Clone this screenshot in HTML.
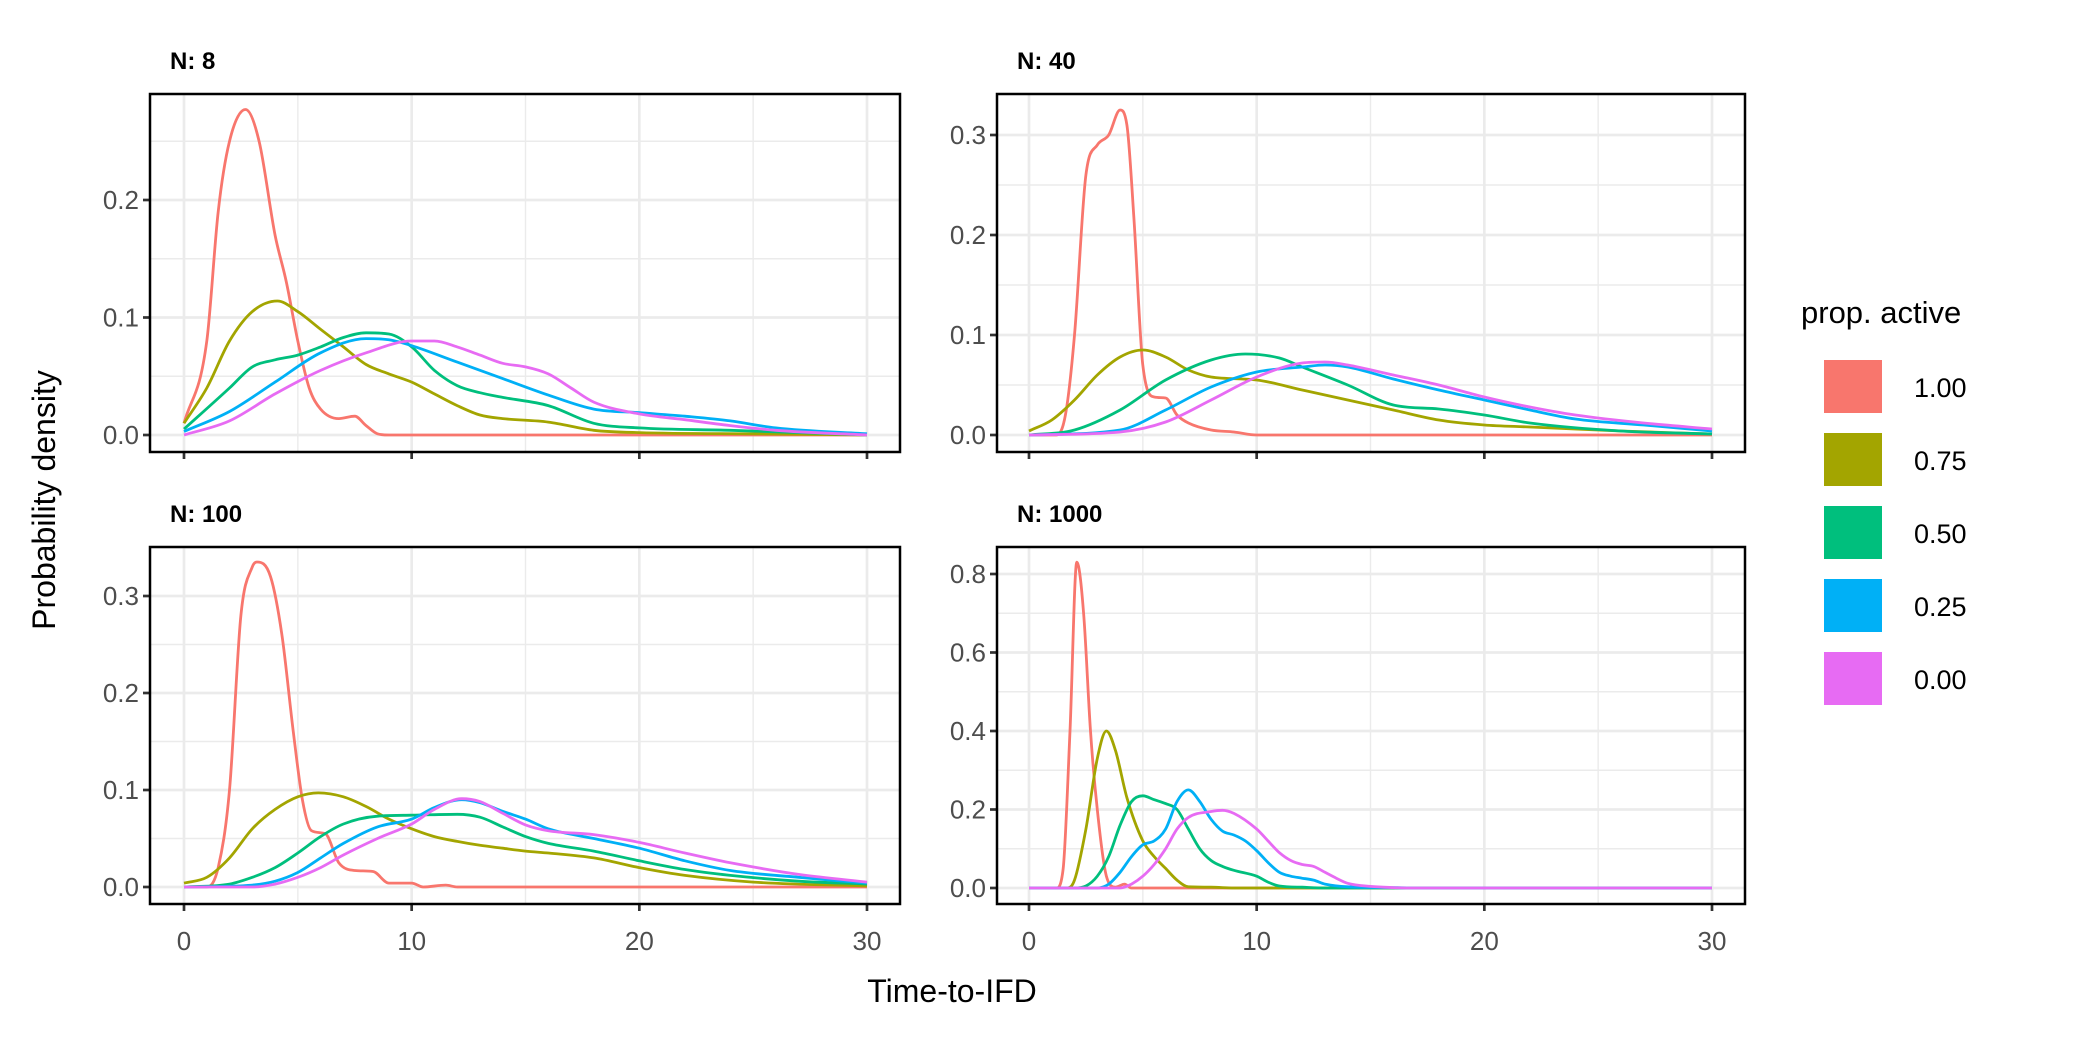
<!DOCTYPE html>
<html><head><meta charset="utf-8"><style>
body{margin:0;background:#fff}
svg{display:block;font-family:"Liberation Sans",sans-serif}
</style></head><body>
<svg id="chart" width="2100" height="1037" viewBox="0 0 2100 1037"></svg>
<script>
const seriesLevels = ["1.00","0.75","0.50","0.25","0.00"];
const seriesColors = ["#F8766D","#A3A500","#00BF7D","#00B0F6","#E76BF3"];
const panelTitles = ["N: 8","N: 40","N: 100","N: 1000"];
const xTicks = [0,10,20,30];
const yTicksP1 = [0,0.1,0.2];
const yTicksP2 = [0,0.1,0.2,0.3];
const yTicksP3 = [0,0.1,0.2,0.3];
const yTicksP4 = [0,0.2,0.4,0.6,0.8];
// N:8
const p1Red = [[0,0.01],[1,0.08],[1.5,0.19],[2,0.25],[2.7,0.277],[3.3,0.25],[4,0.17],[4.5,0.13],[5,0.08],[5.5,0.04],[6,0.022],[6.8,0.014],[7.5,0.016],[8,0.008],[8.5,0.001],[9,0],[30,0]];
const p1Olive = [[0,0.01],[1,0.04],[2,0.08],[3,0.105],[4.1,0.114],[5,0.105],[6,0.09],[7,0.075],[8,0.06],[9,0.052],[10,0.045],[11,0.035],[12,0.025],[13,0.017],[14,0.014],[16,0.011],[18,0.004],[20,0.002],[25,0.001],[30,0]];
const p1Green = [[0,0.005],[2,0.04],[3,0.058],[4,0.064],[5,0.068],[6,0.075],[7,0.083],[8,0.087],[9,0.086],[10,0.075],[11,0.055],[12,0.042],[13,0.036],[14,0.032],[16,0.025],[18,0.01],[20,0.006],[24,0.004],[27,0.002],[30,0]];
const p1Blue = [[0,0.003],[2,0.02],[4,0.045],[6,0.07],[8,0.082],[9,0.081],[10,0.076],[12,0.062],[14,0.048],[16,0.034],[18,0.022],[20,0.019],[22,0.016],[24,0.012],[26,0.006],[30,0.001]];
const p1Mag = [[0,0],[2,0.012],[4,0.035],[6,0.055],[8,0.07],[10,0.08],[11,0.08],[12,0.075],[13,0.068],[14,0.061],[15,0.058],[16,0.052],[17,0.04],[18,0.028],[20,0.018],[22,0.013],[24,0.008],[26,0.004],[30,0]];
// N:40
const p2Red = [[0,0],[1.2,0],[1.6,0.02],[2,0.1],[2.5,0.26],[3,0.29],[3.5,0.3],[4,0.325],[4.3,0.31],[4.6,0.22],[5,0.07],[5.5,0.038],[6,0.037],[6.5,0.02],[7,0.012],[8,0.005],[9,0.003],[10,0],[30,0]];
const p2Olive = [[0,0.004],[1,0.015],[2,0.035],[3,0.06],[4,0.078],[5,0.085],[6,0.078],[7,0.065],[8,0.058],[10,0.055],[12,0.045],[14,0.035],[16,0.025],[18,0.015],[20,0.01],[22,0.008],[26,0.004],[30,0.001]];
const p2Green = [[0,0],[2,0.005],[4,0.025],[6,0.055],[8,0.075],[9.5,0.081],[11,0.077],[12,0.068],[14,0.05],[16,0.03],[18,0.026],[20,0.02],[22,0.012],[26,0.004],[30,0.001]];
const p2Blue = [[0,0],[4,0.005],[6,0.025],[8,0.048],[10,0.063],[12,0.068],[13,0.07],[14,0.068],[16,0.056],[18,0.045],[20,0.035],[22,0.025],[24,0.016],[27,0.01],[30,0.004]];
const p2Mag = [[0,0],[4,0.003],[6,0.013],[8,0.035],[10,0.058],[12,0.072],[13,0.073],[14,0.07],[16,0.06],[18,0.05],[20,0.038],[22,0.028],[24,0.02],[27,0.012],[30,0.006]];
// N:100
const p3Red = [[0,0],[1,0],[1.5,0.02],[2,0.1],[2.5,0.28],[3,0.33],[3.2,0.335],[3.8,0.32],[4.3,0.26],[4.8,0.16],[5.2,0.09],[5.6,0.058],[6.2,0.055],[6.8,0.025],[7.5,0.017],[8.3,0.016],[9,0.004],[10,0.004],[10.5,0],[11.5,0.002],[12,0],[30,0]];
const p3Olive = [[0,0.004],[1,0.01],[2,0.03],[3,0.06],[4,0.08],[5,0.093],[5.9,0.097],[7,0.093],[8,0.083],[9,0.07],[10,0.06],[11,0.052],[12,0.047],[13,0.043],[14,0.04],[15,0.037],[16,0.035],[18,0.03],[20,0.02],[22,0.012],[25,0.005],[30,0.001]];
const p3Green = [[0,0],[2,0.003],[3,0.01],[4,0.02],[5,0.035],[6,0.052],[7,0.065],[8.5,0.073],[10,0.074],[12,0.075],[13,0.072],[14,0.062],[15,0.052],[16,0.045],[18,0.037],[20,0.027],[22,0.018],[24,0.012],[27,0.006],[30,0.003]];
const p3Blue = [[0,0],[3,0.002],[4,0.006],[5,0.015],[6,0.03],[7,0.045],[8.5,0.062],[10,0.07],[11,0.082],[12.2,0.09],[13,0.087],[14,0.078],[15,0.07],[16,0.06],[18,0.05],[20,0.04],[22,0.027],[24,0.017],[27,0.01],[30,0.004]];
const p3Mag = [[0,0],[3,0],[4,0.003],[5,0.01],[6,0.02],[7,0.033],[8.5,0.05],[10,0.065],[11,0.08],[12.2,0.091],[13,0.088],[14,0.076],[15,0.064],[16,0.058],[18,0.054],[20,0.046],[22,0.035],[24,0.025],[27,0.013],[30,0.005]];
// N:1000
const p4Red = [[0,0],[1.2,0],[1.5,0.05],[1.8,0.4],[2.1,0.83],[2.4,0.7],[2.7,0.4],[3,0.2],[3.4,0.03],[3.8,0.002],[4.2,0.01],[4.5,0],[30,0]];
const p4Olive = [[0,0],[1.7,0],[2,0.02],[2.5,0.15],[3,0.33],[3.4,0.4],[3.8,0.35],[4.3,0.23],[5,0.12],[5.5,0.08],[6,0.05],[6.5,0.02],[7,0.003],[8,0.002],[9,0],[30,0]];
const p4Green = [[0,0],[2,0],[2.5,0.005],[3,0.03],[3.5,0.08],[4,0.16],[4.5,0.22],[5,0.235],[5.5,0.225],[6,0.215],[6.5,0.2],[7,0.15],[7.5,0.1],[8,0.07],[8.5,0.055],[9,0.045],[10,0.03],[10.5,0.015],[11,0.005],[12,0.002],[13,0],[30,0]];
const p4Blue = [[0,0],[3,0],[3.5,0.01],[4,0.04],[4.5,0.08],[5,0.11],[5.5,0.12],[6,0.15],[6.5,0.22],[7,0.25],[7.5,0.22],[8,0.175],[8.5,0.145],[9,0.135],[9.5,0.12],[10,0.095],[10.5,0.065],[11,0.04],[11.5,0.03],[12,0.025],[12.5,0.02],[13,0.01],[14,0.003],[16,0.001],[17,0],[30,0]];
const p4Mag = [[0,0],[4,0],[4.5,0.01],[5,0.03],[5.5,0.06],[6,0.1],[6.5,0.15],[7,0.18],[8,0.195],[8.5,0.198],[9,0.19],[10,0.15],[10.5,0.12],[11,0.09],[11.5,0.07],[12,0.06],[12.5,0.055],[13,0.04],[13.5,0.025],[14,0.012],[15,0.004],[16,0.001],[17,0],[30,0]];

const NS="http://www.w3.org/2000/svg";
const svg=document.getElementById('chart');
function mk(tag,attrs,parent){const e=document.createElementNS(NS,tag);for(const k in attrs)e.setAttribute(k,attrs[k]);(parent||svg).appendChild(e);return e;}
// monotone cubic (Fritsch-Carlson) in pixel space
function smooth(P){const n=P.length;const d=[],m=[];
 for(let i=0;i<n-1;i++)d.push((P[i+1][1]-P[i][1])/(P[i+1][0]-P[i][0]));
 m[0]=d[0];m[n-1]=d[n-2];
 for(let i=1;i<n-1;i++){m[i]=(d[i-1]*d[i]<=0)?0:(d[i-1]+d[i])/2;}
 for(let i=0;i<n-1;i++){if(d[i]===0){m[i]=0;m[i+1]=0;continue;}
  const a=m[i]/d[i],b=m[i+1]/d[i],s=a*a+b*b;if(s>9){const t=3/Math.sqrt(s);m[i]=t*a*d[i];m[i+1]=t*b*d[i];}}
 let s="M"+P[0][0].toFixed(1)+","+P[0][1].toFixed(1);
 for(let i=0;i<n-1;i++){const h=(P[i+1][0]-P[i][0])/3;
  s+="C"+(P[i][0]+h).toFixed(1)+","+(P[i][1]+m[i]*h).toFixed(1)+" "+(P[i+1][0]-h).toFixed(1)+","+(P[i+1][1]-m[i+1]*h).toFixed(1)+" "+P[i+1][0].toFixed(1)+","+P[i+1][1].toFixed(1);}
 return s;}

const panels=[
 {L:150,T:94,R:900,B:452,x0:184,x30:867,y0:435,yTop:200,yTopVal:0.2,ticks:yTicksP1,series:[p1Red,p1Olive,p1Green,p1Blue,p1Mag],xlab:false},
 {L:997,T:94,R:1745,B:452,x0:1029,x30:1712,y0:435,yTop:135,yTopVal:0.3,ticks:yTicksP2,series:[p2Red,p2Olive,p2Green,p2Blue,p2Mag],xlab:false},
 {L:150,T:547,R:900,B:904,x0:184,x30:867,y0:887,yTop:596,yTopVal:0.3,ticks:yTicksP3,series:[p3Red,p3Olive,p3Green,p3Blue,p3Mag],xlab:true},
 {L:997,T:547,R:1745,B:904,x0:1029,x30:1712,y0:888,yTop:574,yTopVal:0.8,ticks:yTicksP4,series:[p4Red,p4Olive,p4Green,p4Blue,p4Mag],xlab:true}
];
panels.forEach((p,pi)=>{
 const g=mk('g',{});
 
 
 const sx=v=>p.x0+(p.x30-p.x0)*v/30;
 const sy=v=>p.y0-(p.y0-p.yTop)*v/p.yTopVal;
 mk('rect',{x:p.L,y:p.T,width:p.R-p.L,height:p.B-p.T,fill:'#fff'},g);
 const step=p.ticks[1]-p.ticks[0];
 for(let k=-1;k<=p.ticks.length+1;k++){const y=sy((k+0.5)*step);if(y>p.T&&y<p.B)mk('line',{x1:p.L,x2:p.R,y1:y,y2:y,stroke:'#ebebeb','stroke-width':1.4},g);}
 [5,15,25].forEach(v=>mk('line',{x1:sx(v),x2:sx(v),y1:p.T,y2:p.B,stroke:'#ebebeb','stroke-width':1.4},g));
 p.ticks.forEach(v=>{const y=sy(v);mk('line',{x1:p.L,x2:p.R,y1:y,y2:y,stroke:'#ebebeb','stroke-width':2.7},g);
  mk('line',{x1:p.L-7,x2:p.L,y1:y,y2:y,stroke:'#333','stroke-width':2.7},g);
  const t=mk('text',{x:p.L-11,y:y+9,'text-anchor':'end','font-size':26,fill:'#4d4d4d'},g);t.textContent=v.toFixed(1);
  
  });
 xTicks.forEach(v=>{const x=sx(v);mk('line',{x1:x,x2:x,y1:p.T,y2:p.B,stroke:'#ebebeb','stroke-width':2.7},g);
  mk('line',{x1:x,x2:x,y1:p.B,y2:p.B+7,stroke:'#333','stroke-width':2.7},g);
  if(p.xlab){const t=mk('text',{x:x,y:p.B+46,'text-anchor':'middle','font-size':26,fill:'#4d4d4d'},g);t.textContent=v;
   
   }});
 const cp=mk('clipPath',{id:'cp'+pi},g);mk('rect',{x:p.L,y:p.T,width:p.R-p.L,height:p.B-p.T},cp);
 p.series.forEach((s,si)=>{const path=mk('path',{d:smooth(s.map(q=>[sx(q[0]),sy(q[1])])),fill:'none',stroke:seriesColors[si],'stroke-width':2.8,'stroke-linejoin':'round','clip-path':'url(#cp'+pi+')'},g);
  
  });
 mk('rect',{x:p.L,y:p.T,width:p.R-p.L,height:p.B-p.T,fill:'none',stroke:'#000','stroke-width':2.5},g);
 const st=mk('text',{x:p.L+20,y:p.T-25,'font-size':24,'font-weight':'bold',fill:'#000'},g);st.textContent=panelTitles[pi];
 
 
});
const xt=mk('text',{x:952,y:1002,'text-anchor':'middle','font-size':32,fill:'#000'});xt.textContent='Time-to-IFD';


const yt=mk('text',{x:0,y:0,'text-anchor':'middle','font-size':32,fill:'#000',transform:'translate(55,500) rotate(-90)'});yt.textContent='Probability density';


const lt=mk('text',{x:1801,y:323,'font-size':31,fill:'#000'});lt.textContent='prop. active';


seriesLevels.forEach((lv,i)=>{const g=mk('g',{});
 
 
 const y=360+i*73;mk('rect',{x:1824,y:y,width:58,height:53,fill:seriesColors[i]},g);
 const t=mk('text',{x:1914,y:y+37,'font-size':27,fill:'#000'},g);t.textContent=lv;});
</script>
</body></html>
